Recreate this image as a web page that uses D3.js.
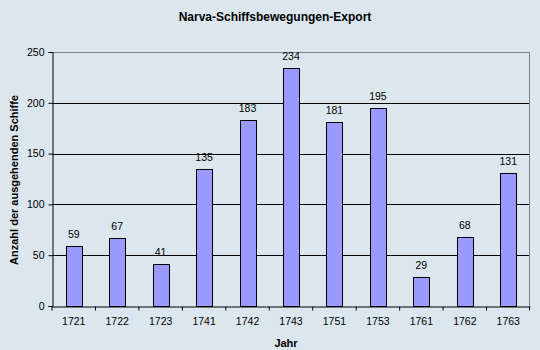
<!DOCTYPE html>
<meta charset="utf-8">
<style>
  body { margin: 0; background: #dbe6ee; }
  text { font-family: "Liberation Sans", Arial, sans-serif; fill: #000; }
</style>
<div id="chart"></div>
<script src="https://d3js.org/d3.v7.min.js"></script>
<script>
// data
var years = ["1721", "1722", "1723", "1741", "1742", "1743", "1751", "1753", "1761", "1762", "1763"];
var ships = [59, 67, 41, 135, 183, 234, 181, 195, 29, 68, 131];
var yTicks = [0, 50, 100, 150, 200, 250];

var W = 540, H = 350;
var margin = {top: 52, right: 10, bottom: 44, left: 52},
    width = W - margin.left - margin.right,
    height = H - margin.top - margin.bottom;

var svg = d3.select("#chart").append("svg")
    .attr("width", W).attr("height", H)
    .style("background", "#dbe6ee");

var g = svg.append("g")
    .attr("transform", "translate(" + margin.left + "," + margin.top + ")");

var x = d3.scaleBand().domain(years).range([0, width]).paddingInner(0.63).paddingOuter(0.315);
var y = d3.scaleLinear().domain([0, 250]).range([height, 0]);

// plot frame (top & right grey)
g.append("path")
  .attr("d", "M0.5,0.5H" + (width - 0.5) + "V" + height)
  .attr("fill", "none").attr("stroke", "#808080");

// gridlines
g.selectAll(".grid").data(yTicks.filter(function(d) { return d > 0 && d < 250; }))
  .enter().append("line")
  .attr("x1", 0).attr("x2", width - 1)
  .attr("y1", function(d) { return Math.round(y(d)) + 0.5; })
  .attr("y2", function(d) { return Math.round(y(d)) + 0.5; })
  .attr("stroke", "#000");

// bars
g.selectAll("rect").data(ships).enter().append("rect")
  .attr("x", function(d, i) { return Math.round(x(years[i])) + 0.5; })
  .attr("y", function(d) { return Math.round(y(d)) + 0.5; })
  .attr("width", Math.round(x.bandwidth()))
  .attr("height", function(d) { return height - Math.round(y(d)); })
  .attr("fill", "#9999ff").attr("stroke", "#000");

// value labels
g.selectAll(".val").data(ships).enter().append("text")
  .attr("x", function(d, i) { return x(years[i]) + x.bandwidth() / 2; })
  .attr("y", function(d) { return y(d) - 8; })
  .attr("text-anchor", "middle").style("font-size", "10.5px")
  .text(function(d) { return d; });

// y axis
var yAxis = g.append("g").attr("transform", "translate(0.5,0)")
  .call(d3.axisLeft(y).tickValues(yTicks).tickSize(4).tickPadding(4));
// x axis
var band = x.step();
var xAxis = g.append("g").attr("transform", "translate(0," + (height + 0.5) + ")")
  .call(d3.axisBottom(x).tickSize(0).tickPadding(11));
xAxis.selectAll(".tick").each(function(d, i) {
  d3.select(this).append("line")
    .attr("x1", -band / 2).attr("x2", -band / 2)
    .attr("y1", 0).attr("y2", 4).attr("stroke", "#000");
});
xAxis.append("line").attr("x1", width - 0.5).attr("x2", width - 0.5)
  .attr("y1", 0).attr("y2", 4).attr("stroke", "#000");

[yAxis, xAxis].forEach(function(a) {
  a.selectAll(".domain").attr("stroke", "#000");
  a.selectAll("text").style("font-size", "10.5px").style("font-family", "Liberation Sans, Arial, sans-serif");
});

// titles
svg.append("text").attr("x", 275).attr("y", 21).attr("text-anchor", "middle")
  .style("font-size", "12px").style("font-weight", "bold")
  .text("Narva-Schiffsbewegungen-Export");
svg.append("text").attr("x", 286).attr("y", 347).attr("text-anchor", "middle")
  .style("font-size", "11px").style("font-weight", "bold").text("Jahr");
svg.append("text").attr("transform", "translate(18,180) rotate(-90)")
  .attr("text-anchor", "middle")
  .style("font-size", "11px").style("font-weight", "bold")
  .text("Anzahl der ausgehenden Schiffe");
</script>
